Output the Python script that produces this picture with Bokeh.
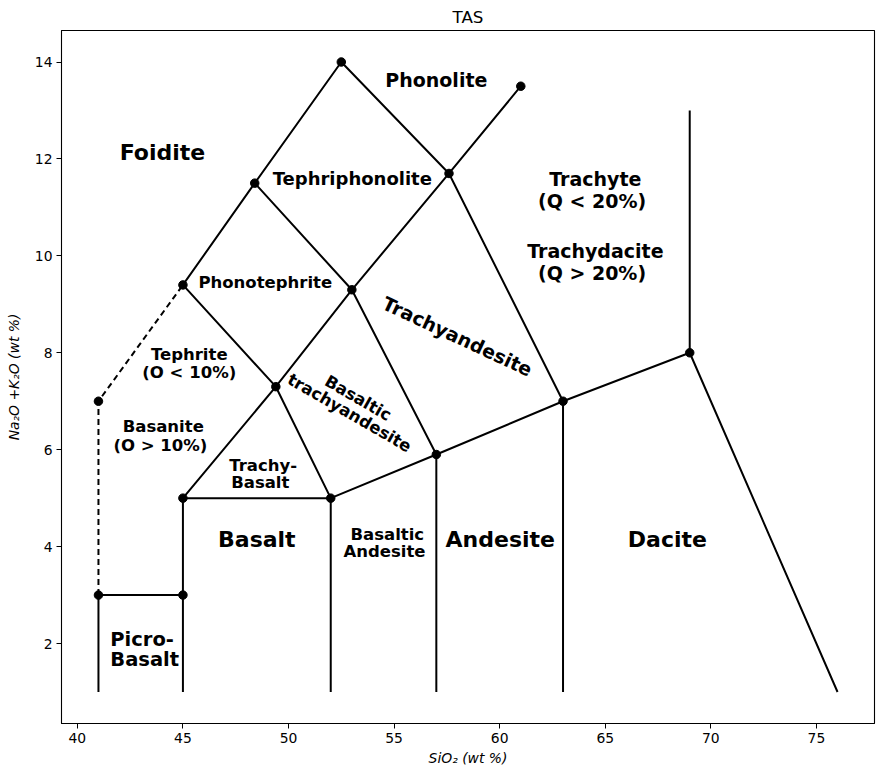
import math
from bokeh.plotting import figure
from bokeh.models import Range1d, FixedTicker, ColumnDataSource
from bokeh.core.properties import value
from bokeh.embed import file_html
from bokeh.resources import INLINE

# ---- boundary polylines (SiO2, Na2O+K2O) ----
solid_xs = [
    [41, 41, 45],
    [45, 45, 45, 49.4, 53, 57.6, 61],
    [45, 52, 57, 63, 69, 76],
    [52, 52],
    [57, 57],
    [63, 63],
    [69, 69],
    [45, 48.4, 52.5, 57.6, 63],
    [48.4, 53, 57],
    [45, 49.4, 52],
]
solid_ys = [
    [1, 3, 3],
    [1, 3, 5, 7.3, 9.3, 11.7, 13.5],
    [5, 5, 5.9, 7, 8, 1],
    [1, 5],
    [1, 5.9],
    [1, 7],
    [8, 13],
    [9.4, 11.5, 14, 11.7, 7],
    [11.5, 9.3, 5.9],
    [9.4, 7.3, 5],
]
dashed_x = [41, 41, 45]
dashed_y = [3, 7, 9.4]

marker_x = [52.5, 61, 48.4, 57.6, 45, 53, 41, 49.4, 63, 69, 57, 45, 52, 41, 45]
marker_y = [14, 13.5, 11.5, 11.7, 9.4, 9.3, 7, 7.3, 7, 8, 5.9, 5, 5, 3, 3]

# ---- field names ----
label_text = ["Foidite", "Phonolite", "Tephriphonolite", "Trachyte\n (Q < 20%)",
              "Trachydacite\n (Q > 20%)", "Phonotephrite", "Trachyandesite",
              "Basaltic\ntrachyandesite", "Tephrite\n(O < 10%)", "Basanite\n (O > 10%)",
              "Trachy-\n Basalt", "Basalt", "Basaltic\n Andesite", "Andesite", "Dacite",
              "Picro-\nBasalt"]
label_x = [44.03, 57.0, 53.02, 64.53, 64.53, 48.9, 58.0, 53.09, 45.3, 44.07,
           48.8, 48.5, 54.68, 60.03, 67.94, 41.56]
label_y = [12.14, 13.63, 11.6, 11.36, 9.87, 9.46, 8.34, 6.91, 7.78, 6.28,
           5.49, 4.15, 4.07, 4.15, 4.15, 1.88]
label_size = ["22px", "19px", "18px", "19px", "19px", "16.5px", "19px", "16.5px",
              "16.5px", "16.5px", "16.5px", "22px", "16.5px", "22px", "22px", "19.5px"]
label_angle_deg = [0, 0, 0, 0, 0, 0, -25, -30, 0, 0, 0, 0, 0, 0, 0, 0]
label_align = ["center"] * 15 + ["left"]
label_line_height = [1.0, 1.0, 1.0, 0.99, 0.99, 1.0, 1.0, 0.9, 0.93, 0.97,
                     0.9, 1.0, 0.9, 1.0, 1.0, 0.89]

x_ticks = [40, 45, 50, 55, 60, 65, 70, 75]
y_ticks = [2, 4, 6, 8, 10, 12, 14]

p = figure(width=876, height=772, output_backend="svg", toolbar_location=None,
           x_range=Range1d(39.25, 77.75), y_range=Range1d(0.35, 14.65),
           title="TAS", min_border_left=61, min_border_right=2,
           min_border_top=30, min_border_bottom=49)

p.title.align = "center"
p.title.text_font = "DejaVu Sans"
p.title.text_font_size = "16.7px"
p.title.text_font_style = "normal"
p.title.text_color = "black"
p.title.standoff = 7

p.xgrid.visible = False
p.ygrid.visible = False
p.outline_line_color = "black"
p.outline_line_width = 1.1
p.background_fill_color = "white"
p.border_fill_color = "white"

for ax, ticks in ((p.xaxis, x_ticks), (p.yaxis, y_ticks)):
    ax.ticker = FixedTicker(ticks=ticks)
    ax.major_tick_in = 0
    ax.major_tick_out = 5
    ax.minor_tick_in = 0
    ax.minor_tick_out = 0
    ax.major_label_text_font = "DejaVu Sans"
    ax.major_label_text_font_size = "13.9px"
    ax.major_label_text_color = "black"
    ax.axis_label_text_font = "DejaVu Sans"
    ax.axis_label_text_font_size = "13.9px"
    ax.axis_label_text_font_style = "italic"
    ax.axis_label_text_color = "black"
    ax.axis_line_color = "black"
    ax.major_tick_line_color = "black"
    ax.major_label_standoff = 4

p.xaxis.axis_label = "SiO\u2082 (wt %)"
p.yaxis.axis_label = "Na\u2082O +K\u2082O (wt %)"
p.xaxis.axis_label_standoff = 4
p.yaxis.axis_label_standoff = 10

p.multi_line(xs=solid_xs, ys=solid_ys, line_color="black", line_width=2)
p.line(dashed_x, dashed_y, line_color="black", line_width=2, line_dash="6 4")
p.scatter(marker_x, marker_y, size=8.5, color="black")

src = ColumnDataSource(dict(
    x=label_x, y=label_y, text=label_text, size=label_size,
    angle=[math.radians(a) for a in label_angle_deg], align=label_align,
    lh=label_line_height,
))
p.text(x="x", y="y", text="text", source=src, text_font=value("DejaVu Sans"),
       text_font_style="bold", text_font_size="size", angle="angle",
       text_align="align", text_baseline="middle", text_color="black",
       text_line_height="lh")

open("out.html", "w").write(file_html(p, INLINE))
